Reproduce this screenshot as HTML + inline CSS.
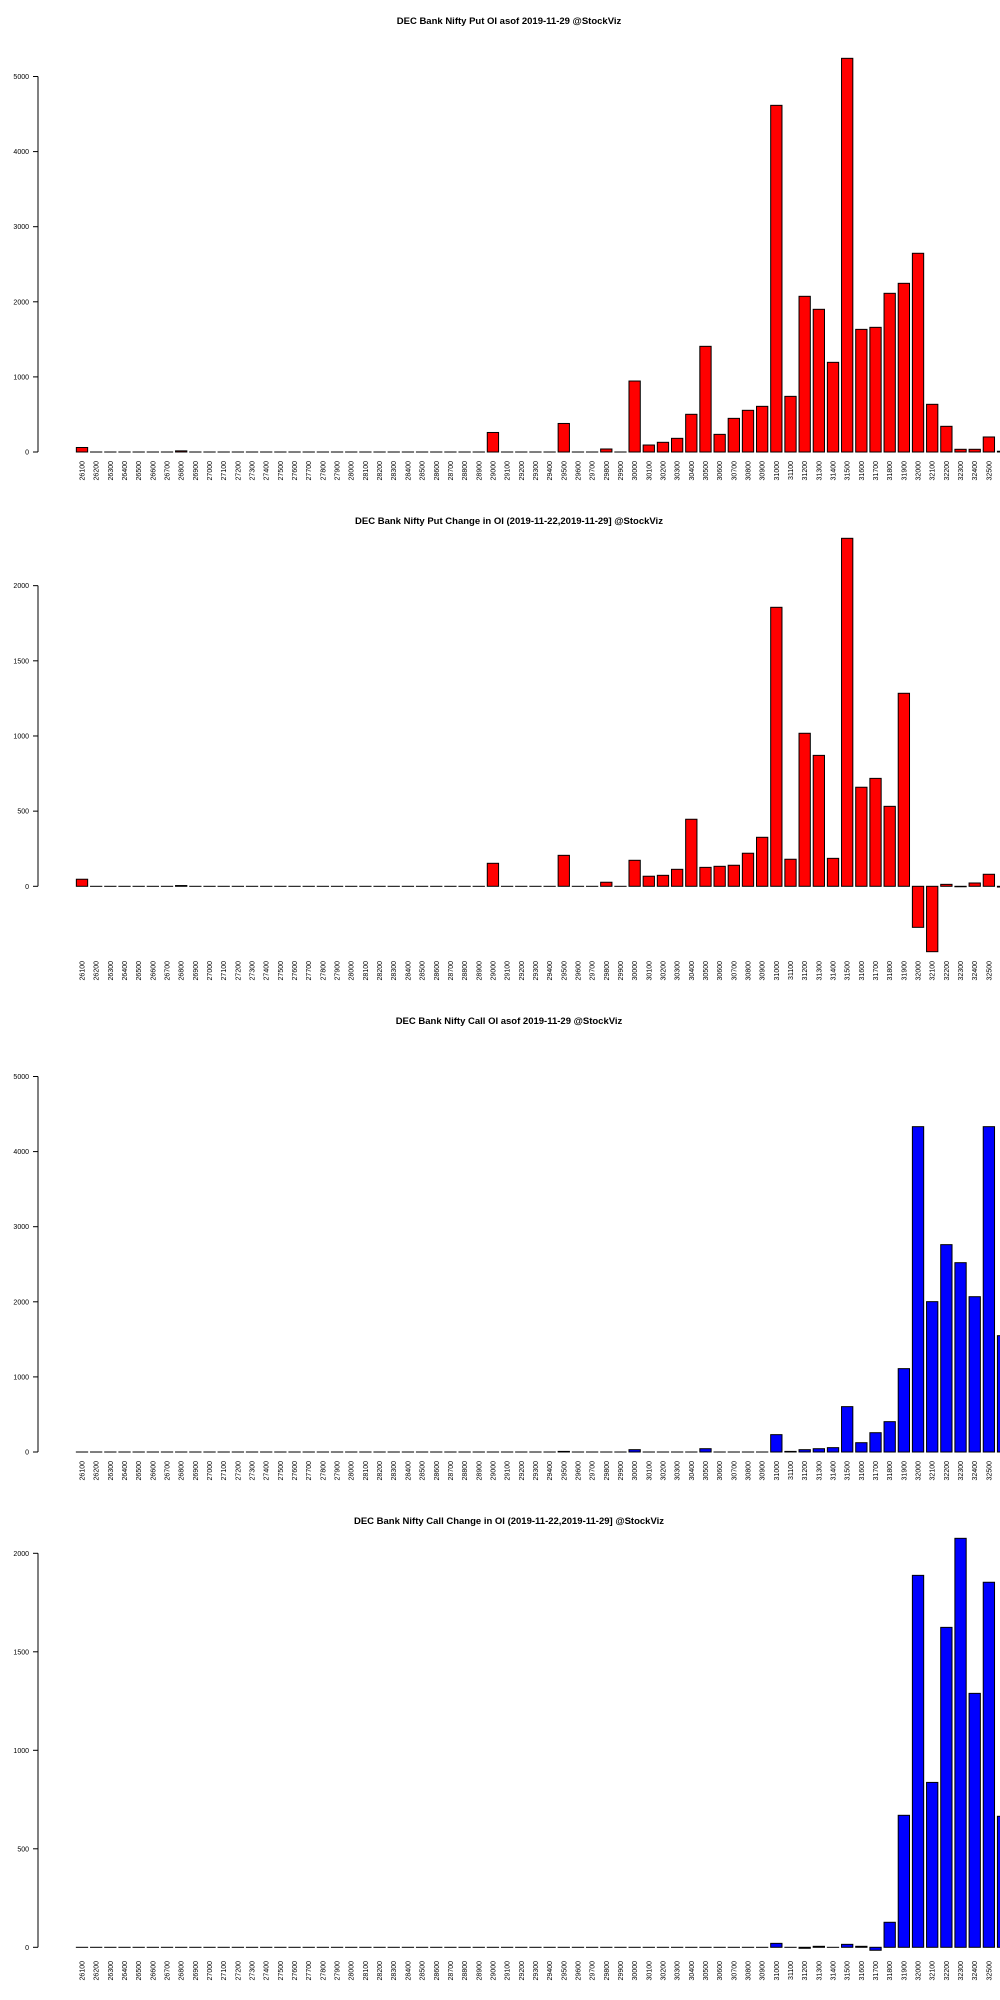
<!DOCTYPE html>
<html><head><meta charset="utf-8">
<style>
html,body{margin:0;padding:0;background:#fff;}
svg{display:block;}
text{font-family:"Liberation Sans",sans-serif;fill:#000;}
</style></head>
<body>
<svg id="s" width="1000" height="2000" viewBox="0 0 1000 2000" xmlns="http://www.w3.org/2000/svg"></svg>
<script>
var NS="http://www.w3.org/2000/svg";
var s=document.getElementById('s');
function el(t,a,txt){var e=document.createElementNS(NS,t);for(var k in a)e.setAttribute(k,a[k]);if(txt!==undefined)e.textContent=txt;s.appendChild(e);return e;}
function arr(n,map){var a=[];for(var i=0;i<n;i++)a.push(0);for(var k in map){a[(k-26100)/100]=map[k];}return a;}
var charts=[
 {off:0,title:"DEC Bank Nifty Put OI asof 2019-11-29 @StockViz",zero:452,scale:0.0751,ticks:[0,1000,2000,3000,4000,5000],color:"#ff0000",lab:461,
  d:arr(66,{26100:60,26800:15,29000:260,29500:380,29800:40,30000:945,30100:93,30200:129,30300:182,30400:502,30500:1407,30600:235,30700:448,30800:555,30900:608,31000:4616,31100:741,31200:2073,31300:1900,31400:1194,31500:5242,31600:1633,31700:1660,31800:2113,31900:2246,32000:2646,32100:635,32200:342,32300:36,32400:36,32500:200,32600:10})},
 {off:500,title:"DEC Bank Nifty Put Change in OI (2019-11-22,2019-11-29] @StockViz",zero:886.3,scale:0.15032,ticks:[0,500,1000,1500,2000],color:"#ff0000",lab:961,
  d:arr(66,{26100:47,26800:5,29000:153,29500:206,29800:27,30000:173,30100:67,30200:73,30300:113,30400:446,30500:126,30600:133,30700:140,30800:220,30900:326,31000:1856,31100:180,31200:1018,31300:871,31400:186,31500:2315,31600:659,31700:718,31800:532,31900:1284,32000:-273,32100:-435,32200:13,32300:-3,32400:22,32500:80,32600:-5})},
 {off:1000,title:"DEC Bank Nifty Call OI asof 2019-11-29 @StockViz",zero:1452,scale:0.0751,ticks:[0,1000,2000,3000,4000,5000],color:"#0000ff",lab:1461,
  d:arr(66,{29500:8,30000:31,30500:44,31000:231,31100:8,31200:31,31300:44,31400:58,31500:604,31600:124,31700:257,31800:404,31900:1110,32000:4332,32100:2002,32200:2761,32300:2521,32400:2068,32500:4332,32600:1549})},
 {off:1500,title:"DEC Bank Nifty Call Change in OI (2019-11-22,2019-11-29] @StockViz",zero:1947.3,scale:0.197,ticks:[0,500,1000,1500,2000],color:"#0000ff",lab:1961,
  d:arr(66,{31000:20,31200:-5,31300:5,31500:15,31600:5,31700:-15,31800:127,31900:670,32000:1888,32100:837,32200:1624,32300:2076,32400:1289,32500:1853,32600:665})}
];
charts.forEach(function(c){
  el('text',{x:509,y:c.off+24,'text-anchor':'middle','font-size':'9.5','font-weight':'bold'},c.title);
  var top=c.zero-c.ticks[c.ticks.length-1]*c.scale;
  el('line',{x1:38,y1:top,x2:38,y2:c.zero,stroke:'#000','stroke-width':1});
  c.ticks.forEach(function(t){
    var y=c.zero-t*c.scale;
    el('line',{x1:33,y1:y,x2:38,y2:y,stroke:'#000','stroke-width':1});
    el('text',{x:29,y:y+2.5,'text-anchor':'end','font-size':'7'},String(t));
  });
  c.d.forEach(function(v,i){
    var cx=82+14.17*i, w=11.3;
    var h=v*c.scale, y=h>=0?c.zero-h:c.zero;
    el('rect',{x:cx-w/2,y:y,width:w,height:Math.max(Math.abs(h),0.01),fill:c.color,stroke:'#000','stroke-width':1});
    if(i<65){
      var lab=String(26100+100*i);
      el('text',{x:0,y:0,'text-anchor':'end','font-size':'7',transform:'translate('+(cx+2.5)+','+c.lab+') rotate(-90)'},lab);
    }
  });
});
</script>
</body></html>
